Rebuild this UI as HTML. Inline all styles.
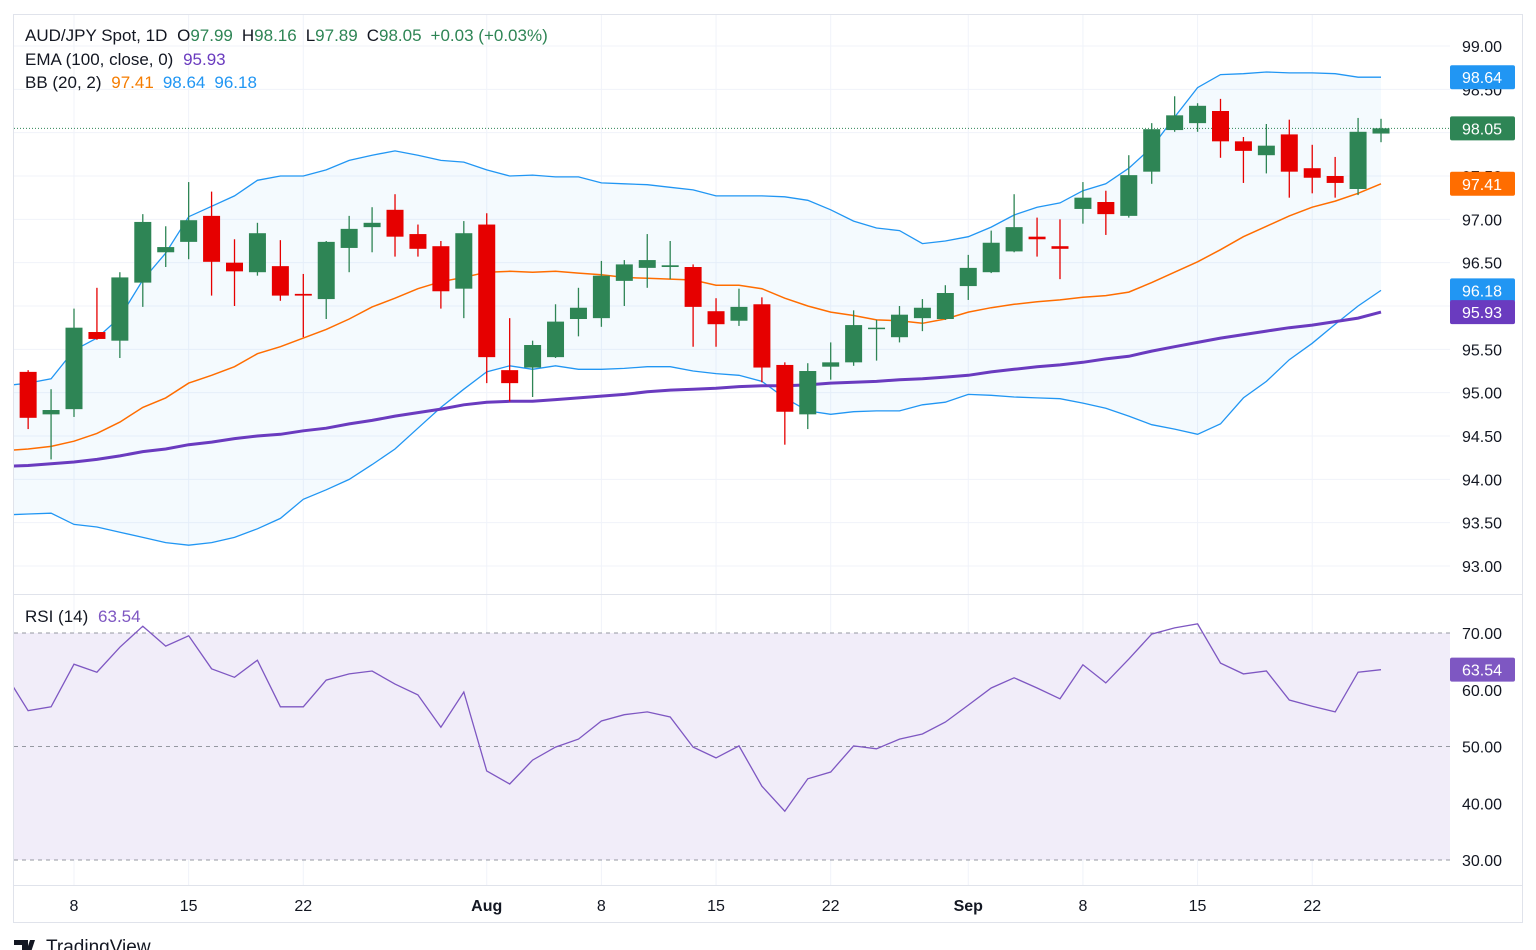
<!DOCTYPE html>
<html><head><meta charset="utf-8"><style>
html,body{margin:0;padding:0;background:#fff;width:1536px;height:950px;overflow:hidden}
svg{display:block;font-family:"Liberation Sans",sans-serif}
</style></head><body>
<svg id="chart" width="1536" height="950" viewBox="0 0 1536 950" xmlns="http://www.w3.org/2000/svg">
<defs>
<clipPath id="mainClip"><rect x="14" y="15" width="1436" height="579"/></clipPath>
<clipPath id="rsiClip"><rect x="14" y="595" width="1436" height="290"/></clipPath>
</defs>
<rect x="13.5" y="14.5" width="1509" height="908" fill="#fff" stroke="#e0e3eb"/>
<g id="grid"></g>
<g id="rsiPane" clip-path="url(#rsiClip)"></g>
<g id="mainPane" clip-path="url(#mainClip)"></g>
<line x1="14" y1="594.5" x2="1522" y2="594.5" stroke="#e0e3eb"/>
<line x1="14" y1="885.5" x2="1522" y2="885.5" stroke="#e0e3eb"/>
<g id="axes"></g>
<g id="legend" font-size="17" fill="#131722">
<text x="25" y="41">AUD/JPY Spot, 1D <tspan dx="5">O</tspan><tspan fill="#2e8555">97.99</tspan><tspan dx="9">H</tspan><tspan fill="#2e8555">98.16</tspan><tspan dx="9">L</tspan><tspan fill="#2e8555">97.89</tspan><tspan dx="9">C</tspan><tspan fill="#2e8555">98.05</tspan><tspan dx="9" fill="#2e8555">+0.03 (+0.03%)</tspan></text>
<text x="25" y="65">EMA (100, close, 0) <tspan dx="5" fill="#6a3bbf">95.93</tspan></text>
<text x="25" y="88">BB (20, 2) <tspan dx="5" fill="#f57c00">97.41</tspan><tspan dx="9" fill="#2196f3">98.64</tspan><tspan dx="9" fill="#2196f3">96.18</tspan></text>
<text x="25" y="622">RSI (14) <tspan dx="5" fill="#7e57c2">63.54</tspan></text>
</g>
<g>
<path d="M14 940 h14 v12 h-6 v-7 h-8z M30 940 h5 l-4 12 h-5z" fill="#131722"/>
<text x="46" y="953" font-size="19" fill="#131722">TradingView</text>
</g>
</svg>
<script>
// ---- data ----
const candleStart = -2;
const opens  = [95.24,94.75,94.81,95.70,95.60,96.27,96.62,96.74,97.04,96.50,96.39,96.46,96.14,96.08,96.67,96.91,97.11,96.83,96.69,96.20,96.94,95.26,95.29,95.41,95.85,95.86,96.29,96.44,96.45,96.45,95.94,95.83,96.02,95.32,94.75,95.30,95.35,95.74,95.64,95.86,95.85,96.23,96.39,96.63,96.80,96.69,97.12,97.20,97.04,97.55,98.03,98.11,98.25,97.90,97.74,97.98,97.59,97.50,97.35,97.99];
const highs  = [95.26,95.04,95.97,96.21,96.39,97.06,96.92,97.43,97.32,96.77,96.96,96.76,96.37,96.75,97.04,97.14,97.29,96.94,96.75,96.98,97.07,95.86,95.60,96.02,96.21,96.52,96.53,96.83,96.75,96.48,96.09,96.20,96.10,95.35,95.34,95.58,95.95,95.84,96.00,96.08,96.24,96.59,96.87,97.29,97.02,97.00,97.43,97.33,97.74,98.11,98.42,98.34,98.39,97.95,98.10,98.15,97.86,97.72,98.17,98.16];
const lows   = [94.58,94.23,94.72,95.61,95.40,95.99,96.45,96.54,96.12,96.00,96.35,96.06,95.64,95.85,96.39,96.62,96.57,96.57,95.97,95.86,95.11,94.90,94.95,95.40,95.65,95.76,96.00,96.21,96.31,95.53,95.53,95.77,95.12,94.40,94.58,95.15,95.31,95.37,95.58,95.71,95.84,96.07,96.38,96.62,96.57,96.31,96.95,96.82,97.02,97.41,98.01,98.01,97.71,97.42,97.53,97.25,97.30,97.25,97.28,97.89];
const closes = [94.71,94.80,95.75,95.62,96.33,96.97,96.68,96.99,96.51,96.40,96.84,96.12,96.12,96.74,96.89,96.96,96.80,96.66,96.17,96.84,95.41,95.11,95.55,95.82,95.98,96.35,96.48,96.53,96.47,95.99,95.79,95.99,95.29,94.78,95.25,95.35,95.78,95.75,95.90,95.98,96.15,96.44,96.73,96.91,96.77,96.66,97.25,97.06,97.51,98.04,98.20,98.31,97.90,97.79,97.85,97.55,97.48,97.42,98.01,98.05];
const lineStart = -3;
const bbUpper = [95.08,95.11,95.16,95.49,95.63,95.87,96.30,96.61,97.03,97.15,97.27,97.45,97.50,97.50,97.57,97.68,97.74,97.79,97.74,97.68,97.66,97.57,97.50,97.51,97.49,97.49,97.42,97.41,97.40,97.37,97.34,97.27,97.27,97.27,97.26,97.22,97.11,96.98,96.90,96.87,96.72,96.75,96.80,96.91,97.05,97.14,97.19,97.33,97.41,97.59,97.83,98.18,98.52,98.67,98.68,98.70,98.69,98.69,98.68,98.64,98.64];
const bbMiddle = [94.33,94.35,94.38,94.44,94.53,94.66,94.83,94.94,95.11,95.20,95.30,95.45,95.53,95.63,95.73,95.85,95.99,96.09,96.20,96.28,96.33,96.39,96.40,96.39,96.40,96.38,96.36,96.33,96.32,96.31,96.30,96.24,96.24,96.20,96.09,96.00,95.93,95.89,95.84,95.83,95.80,95.85,95.93,95.98,96.02,96.05,96.07,96.10,96.12,96.16,96.27,96.39,96.51,96.65,96.80,96.92,97.04,97.14,97.21,97.30,97.41];
const bbLower = [93.59,93.60,93.61,93.48,93.45,93.39,93.33,93.27,93.24,93.27,93.33,93.43,93.55,93.77,93.88,94.00,94.17,94.35,94.59,94.83,95.04,95.24,95.31,95.27,95.31,95.27,95.27,95.28,95.30,95.30,95.25,95.22,95.20,95.13,94.94,94.79,94.75,94.78,94.79,94.79,94.86,94.89,94.98,94.97,94.95,94.94,94.93,94.88,94.82,94.73,94.63,94.58,94.52,94.64,94.94,95.13,95.38,95.57,95.79,96.00,96.18];
const ema100 = [94.15,94.16,94.18,94.20,94.23,94.27,94.32,94.35,94.40,94.43,94.47,94.50,94.52,94.56,94.59,94.64,94.68,94.73,94.77,94.81,94.86,94.89,94.90,94.90,94.92,94.94,94.96,94.98,95.01,95.03,95.04,95.05,95.07,95.08,95.08,95.09,95.11,95.12,95.13,95.15,95.16,95.18,95.20,95.24,95.27,95.30,95.32,95.35,95.39,95.42,95.48,95.53,95.58,95.63,95.67,95.71,95.75,95.78,95.82,95.86,95.93];
const rsi = [62.8,56.3,57.0,64.5,63.1,67.5,71.2,67.7,69.5,63.7,62.2,65.2,57.0,57.0,61.7,62.8,63.3,61.0,59.1,53.4,59.6,45.7,43.4,47.6,49.9,51.3,54.5,55.6,56.1,55.2,49.9,48.0,50.1,43.0,38.6,44.3,45.5,50.1,49.6,51.3,52.2,54.3,57.3,60.3,62.1,60.3,58.4,64.4,61.2,65.4,69.8,70.9,71.6,64.7,62.8,63.3,58.2,57.1,56.1,63.1,63.54];
const priceTicks = [99,98.5,98,97.5,97,96.5,96,95.5,95,94.5,94,93.5,93];
const rsiTicks = [70,60,50,40,30];
const timeTickIdx = [0,5,10,18,23,28,33,39,44,49,54];
const timeTickLabels = ["8","15","22","Aug","8","15","22","Sep","8","15","22"];
const timeTickBold = [false,false,false,true,false,false,false,true,false,false,false];
const lastPrice = 98.05;

// ---- scales ----
const X = i => 74 + i*22.93;
const Y = p => 46 + (99 - p)*86.67;
const R = v => 633 + (70 - v)*5.675;
const NS = "http://www.w3.org/2000/svg";
function mk(tag, attrs, parent){const e=document.createElementNS(NS,tag);for(const k in attrs)e.setAttribute(k,attrs[k]);parent.appendChild(e);return e;}
const grid=document.getElementById('grid'), main=document.getElementById('mainPane'), rsiG=document.getElementById('rsiPane'), axes=document.getElementById('axes');
const GREEN="#2e8555", RED="#e60000";

priceTicks.forEach(p=>{const l=mk('line',{x1:14,x2:1450,y1:Y(p),y2:Y(p),stroke:'#f0f3fa'},grid);

});
[60,40].forEach(v=>{const l=mk('line',{x1:14,x2:1450,y1:R(v),y2:R(v),stroke:'#f0f3fa'},grid);

});
timeTickIdx.forEach(i=>{const l=mk('line',{x1:X(i),x2:X(i),y1:15,y2:885,stroke:'#f0f3fa'},grid);

});

function pathOf(arr,start,f){return arr.map((v,k)=>(k?'L':'M')+X(start+k).toFixed(1)+' '+f(v).toFixed(1)).join(' ');}

const n=bbUpper.length;
let fd=pathOf(bbUpper,lineStart,Y);
for(let k=n-1;k>=0;k--) fd+=' L'+X(lineStart+k).toFixed(1)+' '+Y(bbLower[k]).toFixed(1);
const bf=mk('path',{d:fd+'Z',fill:'rgba(33,150,243,0.05)'},main);


const lu=mk('path',{d:pathOf(bbUpper,lineStart,Y),fill:'none',stroke:'#2196f3','stroke-width':1.3},main);


const ll=mk('path',{d:pathOf(bbLower,lineStart,Y),fill:'none',stroke:'#2196f3','stroke-width':1.3},main);


const lm=mk('path',{d:pathOf(bbMiddle,lineStart,Y),fill:'none',stroke:'#ff6d00','stroke-width':1.5},main);


const le=mk('path',{d:pathOf(ema100,lineStart,Y),fill:'none',stroke:'#6a3bbf','stroke-width':3},main);



const lp=mk('line',{x1:14,x2:1450,y1:Y(lastPrice),y2:Y(lastPrice),stroke:GREEN,'stroke-dasharray':'1 2','stroke-width':1},main);



opens.forEach((o,k)=>{
  const i=candleStart+k, c=closes[k], x=X(i), col=c>=o?GREEN:RED;
  const g=mk('g',{},main);
  
  
  mk('line',{x1:x,x2:x,y1:Y(highs[k]),y2:Y(lows[k]),stroke:col,'stroke-width':1.3},g);
  const top=Y(Math.max(o,c)), h=Math.max(1.5,Math.abs(Y(o)-Y(c)));
  mk('rect',{x:x-8.5,y:top,width:17,height:h,fill:col},g);
});

const rb=mk('rect',{x:14,y:R(70),width:1436,height:R(30)-R(70),fill:'#f1edf9'},rsiG);


[70,50,30].forEach(v=>{const l=mk('line',{x1:14,x2:1450,y1:R(v),y2:R(v),stroke:'#9598a1','stroke-dasharray':'4 4'},rsiG);

});
const rl=mk('path',{d:pathOf(rsi,lineStart,R),fill:'none',stroke:'#7e57c2','stroke-width':1.3},rsiG);



priceTicks.forEach(p=>{const t=mk('text',{x:1462,y:Y(p)+6,'font-size':16,fill:'#131722'},axes);t.textContent=p.toFixed(2);

});
rsiTicks.forEach(v=>{const t=mk('text',{x:1462,y:R(v)+6,'font-size':16,fill:'#131722'},axes);t.textContent=v.toFixed(2);

});
timeTickIdx.forEach((i,k)=>{const t=mk('text',{x:X(i),y:911,'font-size':16,fill:'#131722','text-anchor':'middle','font-weight':timeTickBold[k]?'bold':'normal'},axes);t.textContent=timeTickLabels[k];

});

const badges=[[bbUpper[n-1],Y,'#2196f3'],[lastPrice,Y,GREEN],[bbMiddle[n-1],Y,'#ff6d00'],[bbLower[n-1],Y,'#2196f3'],[ema100[n-1],Y,'#6a3bbf'],[rsi[n-1],R,'#7e57c2']];
badges.forEach(b=>{const y=b[1](b[0]);
  const g=mk('g',{},axes);
  
  
  mk('rect',{x:1450,y:y-12,width:65,height:24,rx:2,fill:b[2]},g);
  const t=mk('text',{x:1462,y:y+6,'font-size':16,fill:'#fff'},g);t.textContent=b[0].toFixed(2);
});
</script>
</body></html>
